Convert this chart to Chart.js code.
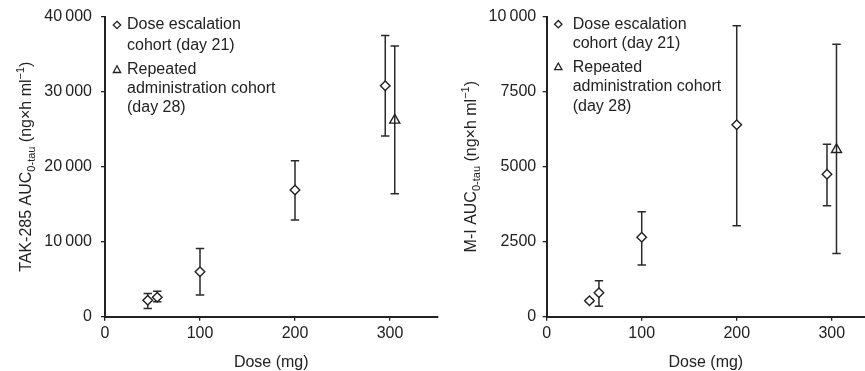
<!DOCTYPE html>
<html>
<head>
<meta charset="utf-8">
<script src="https://cdn.jsdelivr.net/npm/chart.js@4.4.1/dist/chart.umd.min.js"></script>
<style>
  body { margin: 0; background: #fff; }
  #wrap { position: relative; width: 865px; height: 371px; overflow: hidden; }
  .panel { position: absolute; top: 0; height: 371px; }
</style>
</head>
<body>
<div id="wrap">
  <div class="panel" style="left:0;width:440px"><canvas id="chartLeft"></canvas></div>
  <div class="panel" style="left:440px;width:425px"><canvas id="chartRight"></canvas></div>
</div>
<script>
const doseEsc = [45, 55, 100, 200, 295];
const doseRep = [305];

// TAK-285 AUC, mean and error bar ends
const takEsc = [2200, 2600, 6000, 16900, 30800];
const takEscLow = [1100, 2000, 2900, 12900, 24100];
const takEscHigh = [3100, 3400, 9100, 20800, 37500];
const takRep = [26200];
const takRepLow = [16400];
const takRepHigh = [36100];

// M-I AUC
const miEsc = [530, 800, 2650, 6400, 4750];
const miEscLow = [490, 350, 1720, 3030, 3700];
const miEscHigh = [570, 1200, 3500, 9700, 5750];
const miRep = [5570];
const miRepLow = [2110];
const miRepHigh = [9080];

const xTicks = [0, 100, 200, 300];
const takTicks = [0, 10000, 20000, 30000, 40000];
const miTicks = [0, 2500, 5000, 7500, 10000];

const legendLabels = [['Dose escalation', 'cohort (day 21)'], ['Repeated', 'administration cohort', '(day 28)']];
const takTitle = [['TAK-285 AUC', 'n'], ['0-tau', 'sub'], [' (ng\u00d7h ml', 'n'], ['\u22121', 'sup'], [')', 'n']];
const miTitle = [['M-I AUC', 'n'], ['0-tau', 'sub'], [' (ng\u00d7h ml', 'n'], ['\u22121', 'sup'], [')', 'n']];

const FONT = '"Liberation Sans", Arial, Helvetica, sans-serif';
const INK = '#222';

const fmt = v => v >= 10000 ? String(v).replace(/\B(?=(\d{3})+(?!\d))/g, '\u2009') : String(v);

function diamond(ctx, x, y, r) {
    ctx.beginPath();
    ctx.moveTo(x, y - r);
    ctx.lineTo(x + r, y);
    ctx.lineTo(x, y + r);
    ctx.lineTo(x - r, y);
    ctx.closePath();
    ctx.stroke();
}

function triangle(ctx, x, y, r) {
    ctx.beginPath();
    ctx.moveTo(x, y - r);
    ctx.lineTo(x + r * 0.87, y + r * 0.6);
    ctx.lineTo(x - r * 0.87, y + r * 0.6);
    ctx.closePath();
    ctx.stroke();
}

// error bars, drawn under the markers
const errorBars = {
    id: 'errorBars',
    beforeDatasetsDraw(chart) {
        const ctx = chart.ctx;
        const yScale = chart.scales.y;
        ctx.save();
        ctx.strokeStyle = '#2a2a2a';
        ctx.lineWidth = 1.5;
        chart.data.datasets.forEach((ds, i) => {
            const meta = chart.getDatasetMeta(i);
            meta.data.forEach((pt, j) => {
                const x = pt.x;
                const yl = yScale.getPixelForValue(ds.errLow[j]);
                const yh = yScale.getPixelForValue(ds.errHigh[j]);
                ctx.beginPath();
                ctx.moveTo(x, yl);
                ctx.lineTo(x, yh);
                ctx.moveTo(x - 4.2, yl);
                ctx.lineTo(x + 4.2, yl);
                ctx.moveTo(x - 4.2, yh);
                ctx.lineTo(x + 4.2, yh);
                ctx.stroke();
            });
        });
        ctx.restore();
    }
};

// legend and rotated y title with sub/superscript
const decor = {
    id: 'decor',
    afterDraw(chart, args, opts) {
        const ctx = chart.ctx;
        const area = chart.chartArea;
        ctx.save();
        ctx.fillStyle = INK;
        ctx.strokeStyle = INK;
        ctx.lineWidth = 1.3;
        ctx.textBaseline = 'middle';
        ctx.font = '16px ' + FONT;
        const lines = opts.lines;
        let k = 0;
        legendLabels.forEach((entry, e) => {
            const my = area.top + lines[k];
            if (e === 0) diamond(ctx, area.left + opts.markX, my, 3.7);
            else triangle(ctx, area.left + opts.markX, my, 4.2);
            entry.forEach(txt => {
                ctx.fillText(txt, area.left + opts.textX, area.top + lines[k]);
                k++;
            });
        });

        // y title
        const fontFor = kind => (kind === 'n' ? '16px ' : '11px ') + FONT;
        let total = 0;
        opts.title.forEach(([t, kind]) => { ctx.font = fontFor(kind); total += ctx.measureText(t).width; });
        ctx.translate(opts.titleX, (area.top + area.bottom) / 2);
        ctx.rotate(-Math.PI / 2);
        ctx.textBaseline = 'alphabetic';
        let x = -total / 2;
        opts.title.forEach(([t, kind]) => {
            ctx.font = fontFor(kind);
            const dy = kind === 'sub' ? 4 : kind === 'sup' ? -7 : 0;
            ctx.fillText(t, x, dy);
            x += ctx.measureText(t).width;
        });
        ctx.restore();
    }
};

function makeChart(id, esc, escLow, escHigh, rep, repLow, repHigh, yMax, yTicks, xMax, p) {
    const points = (xs, ys) => xs.map((x, i) => ({ x: x, y: ys[i] }));
    return new Chart(document.getElementById(id), {
        type: 'scatter',
        data: {
            datasets: [{
                data: points(doseEsc, esc),
                errLow: escLow,
                errHigh: escHigh,
                pointStyle: 'rectRot',
                pointRadius: 4.8,
                pointBackgroundColor: '#fff',
                pointBorderColor: INK,
                pointBorderWidth: 1.4
            }, {
                data: points(doseRep, rep),
                errLow: repLow,
                errHigh: repHigh,
                pointStyle: 'triangle',
                pointRadius: 5.8,
                pointBackgroundColor: 'rgba(255,255,255,0)',
                pointBorderColor: INK,
                pointBorderWidth: 1.4
            }]
        },
        options: {
            responsive: true,
            maintainAspectRatio: false,
            animation: false,
            devicePixelRatio: 1,
            layout: { autoPadding: false, padding: { top: 16.7, right: p.right, left: 0, bottom: 0 } },
            plugins: {
                legend: { display: false },
                tooltip: { enabled: false },
                decor: p
            },
            scales: {
                x: {
                    type: 'linear',
                    min: 0,
                    max: xMax,
                    afterBuildTicks: s => { s.ticks = xTicks.map(v => ({ value: v })); },
                    afterFit: s => { s.height = 54.3; s.paddingLeft = 0; s.paddingRight = 0; },
                    grid: { display: true, drawOnChartArea: false, drawTicks: true, tickLength: 4, color: INK, lineWidth: 1.3 },
                    border: { display: true, color: INK, width: 2 },
                    ticks: { color: INK, font: { family: FONT, size: 16 }, padding: 3 },
                    title: { display: true, text: 'Dose (mg)', color: INK, font: { family: FONT, size: 16 }, padding: { top: 0, bottom: -1 } }
                },
                y: {
                    type: 'linear',
                    min: 0,
                    max: yMax,
                    afterBuildTicks: s => { s.ticks = yTicks.map(v => ({ value: v })); },
                    afterFit: s => { s.width = p.axisX; s.paddingTop = 0; s.paddingBottom = 0; },
                    grid: { display: true, drawOnChartArea: false, drawTicks: true, tickLength: 4, color: INK, lineWidth: 1.3 },
                    border: { display: true, color: INK, width: 2 },
                    ticks: { color: INK, font: { family: FONT, size: 16 }, padding: p.tickPad, callback: v => fmt(v) }
                }
            }
        },
        plugins: [errorBars, decor]
    });
}

makeChart('chartLeft', takEsc, takEscLow, takEscHigh, takRep, takRepLow, takRepHigh, 40000, takTicks, 350,
    { axisX: 105, right: 2.5, tickPad: 9, markX: 12, textX: 22, lines: [8.3, 28.5, 53.3, 71.7, 90.5], title: takTitle, titleX: 30.5 });
makeChart('chartRight', miEsc, miEscLow, miEscHigh, miRep, miRepLow, miRepHigh, 10000, miTicks, 335,
    { axisX: 106.7, right: 0, tickPad: 6.5, markX: 11.6, textX: 26, lines: [7.5, 26.5, 50.5, 69.5, 89.5], title: miTitle, titleX: 36 });
</script>
</body>
</html>
